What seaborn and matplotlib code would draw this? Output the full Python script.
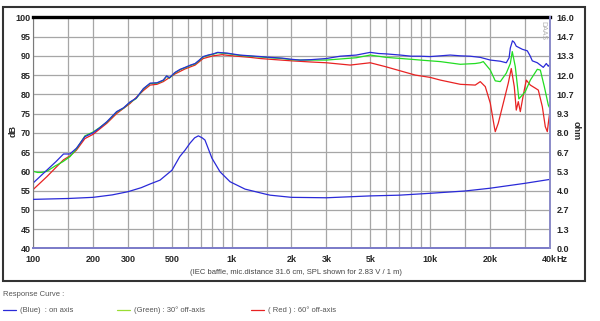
import numpy as np
import pandas as pd
import seaborn as sns
import matplotlib.pyplot as plt
from matplotlib.patches import Rectangle
from matplotlib.ticker import NullFormatter

BLUE = "#2a2ad8"
GREEN = "#22dd22"
RED = "#e82222"

# SPL on axis (blue)
freq_on = [100, 117, 130, 142, 153, 165, 182, 200, 215, 235, 263, 285, 307, 330, 359, 388,
           420, 452, 470, 485, 518, 550, 582, 620, 654, 690, 718, 760, 806, 850, 894, 950,
           1005, 1100, 1238, 1400, 1562, 1800, 2000, 2213, 2500, 3000, 3520, 4240, 4990, 5500,
           6000, 7070, 8030, 8910, 10000, 11250, 12630, 14190, 15930, 17890, 20100, 22570,
           24200, 25000, 25350, 26000, 26550, 27170, 29140, 30880, 31900, 32730, 34680,
           37180, 38500, 39410, 40000]
spl_on = [57.0, 60.3, 62.5, 64.5, 64.5, 66.0, 69.0, 70.0, 71.2, 72.9, 75.5, 76.5, 78.0, 79.0, 81.5, 82.9,
          83.0, 83.7, 84.8, 84.3, 85.7, 86.5, 87.0, 87.6, 88.0, 89.0, 89.8, 90.2, 90.5, 90.9, 90.8, 90.7,
          90.5, 90.2, 90.0, 89.8, 89.6, 89.4, 89.1, 88.9, 89.0, 89.3, 89.9, 90.2, 90.9, 90.6,
          90.5, 90.2, 89.9, 89.9, 89.8, 90.0, 90.2, 90.0, 89.9, 89.6, 88.9, 88.6,
          88.2, 89.5, 92.0, 93.9, 93.5, 92.5, 91.7, 91.3, 90.0, 88.7, 88.2,
          87.0, 88.0, 87.3, 87.7]

# SPL 30 deg (green)
freq_30 = [100, 105, 110, 117, 129, 141, 153, 165, 182, 200, 215, 235, 263, 285, 307, 330, 359, 388,
           420, 452, 470, 485, 518, 550, 582, 620, 654, 690, 718, 760, 806, 850, 894, 950,
           1005, 1100, 1238, 1400, 1562, 1800, 2000, 2213, 3000, 4240, 4990, 6000, 8030, 8910,
           10000, 11250, 14190, 16880, 17890, 18530, 20100, 21290, 22570, 24200, 25350, 25940,
           26860, 28000, 30170, 31980, 34680, 35920, 37620, 39410, 40000]
spl_30 = [60.0, 59.7, 59.7, 60.0, 61.4, 62.5, 63.8, 65.8, 69.2, 70.2, 71.3, 72.8, 75.4, 76.4, 77.9, 78.9, 81.4, 82.8,
          82.9, 83.6, 84.7, 84.2, 85.6, 86.4, 86.9, 87.5, 87.9, 88.9, 89.7, 90.1, 90.4, 90.8, 90.7, 90.6,
          90.4, 90.1, 89.9, 89.7, 89.5, 89.3, 89.0, 88.9, 88.9, 89.5, 90.2, 89.6, 89.1, 88.9,
          88.7, 88.5, 87.8, 88.0, 88.2, 88.5, 86.3, 83.5, 83.3, 85.5, 88.0, 91.1,
          87.2, 78.8, 80.7, 83.7, 86.5, 86.3, 82.0, 77.2, 76.5]

# SPL 60 deg (red)
freq_60 = [100, 117, 130, 142, 153, 165, 182, 200, 235, 263, 307, 359, 388, 420, 452, 518, 582, 654,
           718, 806, 894, 1005, 1238, 1391, 1562, 2000, 2500, 3000, 3955, 4990, 5940, 7070, 8410,
           10000, 11250, 14190, 16880, 17890, 18960, 20100, 21050, 21290, 22050, 23370, 24760,
           25640, 26550, 27170, 27820, 28470, 29480, 30520, 31980, 33890, 35090, 36760, 38050,
           38950, 39410, 40000]
spl_60 = [55.3, 58.6, 61.0, 63.0, 64.0, 65.5, 68.5, 69.6, 72.5, 75.0, 77.6, 81.0, 82.4, 82.6, 83.3, 85.3, 86.6, 87.6,
          89.3, 90.0, 90.3, 90.0, 89.6, 89.3, 89.1, 88.7, 88.4, 88.2, 87.6, 88.2, 87.2, 86.1, 85.0,
          84.4, 83.7, 82.6, 82.4, 83.3, 82.0, 77.7, 71.6, 70.3, 72.5, 77.7, 82.9,
          86.7, 82.0, 75.9, 78.1, 75.5, 79.8, 83.7, 82.4, 81.6, 81.1, 76.8, 71.6,
          70.3, 72.5, 75.0]

# impedance (ohm)
freq_imp = [100, 150, 200, 250, 300, 350, 387, 435, 489, 500, 547, 582, 616, 650, 679, 710, 733,
            795, 873, 981, 1167, 1472, 1562, 2000, 3000, 5000, 7000, 10000, 15000, 20000, 30000, 40000]
ohm_imp = [3.39, 3.45, 3.53, 3.70, 3.92, 4.20, 4.45, 4.72, 5.30, 5.41, 6.35, 6.80, 7.28, 7.65, 7.79, 7.65, 7.50,
           6.24, 5.30, 4.61, 4.10, 3.76, 3.68, 3.53, 3.50, 3.63, 3.68, 3.81, 3.97, 4.16, 4.50, 4.77]

x_ticks = [100, 200, 300, 500, 1000, 2000, 3000, 5000, 10000, 20000, 40000]
x_labels = ["100", "200", "300", "500", "1k", "2k", "3k", "5k", "10k", "20k", "40k"]
x_grid = [150, 400, 600, 700, 800, 900, 1500, 4000, 6000, 7000, 8000, 9000, 15000, 30000]
db_ticks = list(range(40, 101, 5))
ohm_ticks = np.linspace(0, 16, 13)

sns.set_style("white")
plt.rcParams["font.family"] = ["Liberation Sans", "DejaVu Sans"]

df = pd.concat([
    pd.DataFrame({"freq": freq_60, "spl": spl_60, "curve": "red"}),
    pd.DataFrame({"freq": freq_30, "spl": spl_30, "curve": "green"}),
    pd.DataFrame({"freq": freq_on, "spl": spl_on, "curve": "blue"}),
])

fig = plt.figure(figsize=(6, 3.21), dpi=100)
fig.subplots_adjust(left=0.0555, right=0.916, top=0.946, bottom=0.2265)
ax = fig.add_subplot(111)

sns.lineplot(data=df, x="freq", y="spl", hue="curve", hue_order=["red", "green", "blue"],
             palette={"red": RED, "green": GREEN, "blue": BLUE}, estimator=None,
             linewidth=0.9, legend=False, ax=ax)
ax.set_xscale("log")
ax.set_xlim(100, 40000)
ax.set_ylim(40, 100)
ax.set_yticks(db_ticks)
ax.set_yticklabels([str(v) for v in db_ticks], fontsize=6.5, fontweight="bold")
ax.set_xticks(x_ticks)
ax.set_xticklabels(x_labels, fontsize=6.5, fontweight="bold")
ax.set_xticks(x_grid, minor=True)
ax.xaxis.set_minor_formatter(NullFormatter())
ax.tick_params(axis="both", which="both", length=0)
ax.tick_params(axis="x", pad=5)
ax.tick_params(axis="y", pad=2)
ax.grid(True, which="both", color="#a6a6a6", linewidth=0.9)
ax.set_xlabel("")
ax.set_ylabel("")

ax.spines["top"].set_color("black")
ax.spines["top"].set_linewidth(2.4)
ax.spines["left"].set_color("#7a7a7a")
ax.spines["bottom"].set_color("#7a7ac8")
ax.spines["bottom"].set_linewidth(1.4)
ax.spines["right"].set_visible(False)

ax.annotate("Hz", xy=(40000, 0), xycoords=("data", "axes fraction"), xytext=(4.6, -5),
            textcoords="offset points", ha="left", va="top", fontsize=6.5, fontweight="bold")

ax2 = ax.twinx()
sns.lineplot(x=freq_imp, y=ohm_imp, color=BLUE, linewidth=0.9, ax=ax2)
ax2.set_ylim(0, 16)
ax2.set_yticks(ohm_ticks)
ax2.set_yticklabels([f"{v:.1f}" for v in ohm_ticks], fontsize=6.5, fontweight="bold")
ax2.tick_params(axis="y", length=0, pad=5)
ax2.set_ylabel("")
ax2.spines["right"].set_color("#8a8ac8")
ax2.spines["right"].set_linewidth(1.4)
for s in ["top", "left", "bottom"]:
    ax2.spines[s].set_visible(False)
ax2.grid(False)

fig.text(13 / 600, 1 - 131 / 321, "dB", rotation=90, ha="center", va="center",
         fontsize=6.5, fontweight="bold")
fig.text(576 / 600, 1 - 131 / 321, "ohm", rotation=270, ha="center", va="center",
         fontsize=6.5, fontweight="bold")

ax.text(0.993, 0.985, "DAAS", transform=ax.transAxes, rotation=270, ha="right", va="top",
        fontsize=5, color="#b0b0b0")

fig.add_artist(Rectangle((0.005, 0.125), 0.97, 0.853, transform=fig.transFigure,
                         fill=False, edgecolor="#333333", linewidth=1.5))

fig.text(0.4925, 1 - 273 / 321, "(IEC baffle, mic.distance 31.6 cm, SPL shown for 2.83 V / 1 m)",
         ha="center", va="center", fontsize=5.5, color="#444444")
fig.text(0.005, 1 - 294 / 321, "Response Curve :", ha="left", va="center", fontsize=5.5, color="#555555")

legend_y = 1 - 310 / 321
for x0, col, label in [(0.005, BLUE, "(Blue)  : on axis"),
                       (0.195, "#99dd33", "(Green) : 30\u00b0 off-axis"),
                       (0.418, RED, "( Red ) : 60\u00b0 off-axis")]:
    fig.add_artist(plt.Line2D([x0, x0 + 0.022], [legend_y, legend_y], transform=fig.transFigure,
                              color=col, linewidth=0.9))
    fig.text(x0 + 0.028, legend_y, label, ha="left", va="center", fontsize=5.5, color="#555555")

fig.savefig("out.png", dpi=100)
